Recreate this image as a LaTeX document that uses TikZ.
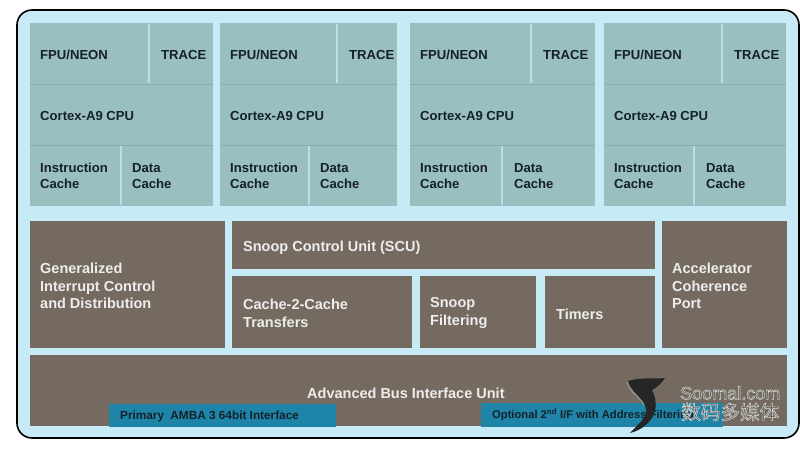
\documentclass[tikz,border=0pt]{standalone}
\usepackage{fontspec}
\setmainfont{Liberation Sans}
\newfontfamily\cjkfont{Noto Sans CJK SC}
\usepackage{tikz}
\usetikzlibrary{positioning}
\definecolor{panelblue}{HTML}{C6EBF6}
\definecolor{cputeal}{HTML}{9ABFC0}
\definecolor{tealedge}{HTML}{86AEB0}
\definecolor{tealline}{HTML}{BBE0E4}
\definecolor{unitbrown}{HTML}{746A5F}
\definecolor{portblue}{HTML}{1F85A8}
\definecolor{inkdark}{HTML}{15202A}
\newcommand{\halotext}[1]{%
  \special{pdf:code q 2 Tr 0.45 w 0.9 0.9 0.88 RG}#1\special{pdf:code Q}}
\tikzset{
  panel/.style={fill=panelblue, draw=black, line width=1.6pt, rounded corners=15pt},
  cpubox/.style={fill=cputeal},
  rowline/.style={draw=tealedge, line width=1pt},
  splitline/.style={draw=tealline, line width=1.2pt},
  unitbox/.style={fill=unitbrown},
  portbox/.style={fill=portblue},
  cpulabel/.style={anchor=west, inner sep=0pt, text=inkdark, align=left,
    font=\fontsize{13.1}{16}\selectfont\bfseries},
  unitlabel/.style={anchor=west, inner sep=0pt, text=white!93!black, align=left,
    font=\fontsize{14.5}{17.7}\selectfont\bfseries},
  portlabel/.style={anchor=west, inner sep=0pt, text=inkdark,
    font=\fontsize{11.2}{13}\selectfont\bfseries},
  marklabel/.style={anchor=west, inner sep=0pt, text=black!62},
}
\begin{document}
\begin{tikzpicture}[x=1pt, y=-1pt]
    \useasboundingbox (0,0) rectangle (800,453);
    \fill[white] (0,0) rectangle (800,453);

    %panel
    \draw[panel] (17,10) rectangle (799,438);

    %cpu blocks
    % \i: index, \l: left, \r: right, \t: split top row, \c: split bottom row,
    % \e: text x of TRACE, \d: text x of Data
    \foreach \i/\l/\r/\t/\c/\e/\d in {
        1/30/213/149/121/161/132,
        2/220/397/337/309/349/320,
        3/410/595/531/502/543/514,
        4/604/786/722/694/734/706}{
      \fill[cpubox] (\l,23) rectangle (\r,206);
      \draw[rowline] (\l,84) -- (\r,84);
      \draw[rowline] (\l,145) -- (\r,145);
      \draw[splitline] (\t,24) -- (\t,83);
      \draw[splitline] (\c,146) -- (\c,205);
      \node[cpulabel, anchor=base west] (fpu\i) at (\l+10,59.5) {FPU/NEON};
      \node[cpulabel, anchor=base west] (trace\i) at (\e,59.5) {TRACE};
      \node[cpulabel] (cortex\i) at (\l+10,116) {Cortex-A9 CPU};
      \node[cpulabel] (icache\i) at (\l+10,175.5) {Instruction\\Cache};
      \node[cpulabel] (dcache\i) at (\d,176) {Data\\Cache};
    }

    %units
    \fill[unitbox] (30,221) rectangle (225,348);
    \fill[unitbox] (232,221) rectangle (655,269);
    \fill[unitbox] (232,276) rectangle (412,348);
    \fill[unitbox] (420,276) rectangle (536,348);
    \fill[unitbox] (545,276) rectangle (655,348);
    \fill[unitbox] (662,221) rectangle (787,348);
    \fill[unitbox] (30,355) rectangle (787,426);

    \node[unitlabel] (gic) at (40,286) {Generalized\\Interrupt Control\\and Distribution};
    \node[unitlabel] (scu) at (243,247.5) {Snoop Control Unit (SCU)};
    \node[unitlabel] (c2c) at (243,313) {Cache-2-Cache\\Transfers};
    \node[unitlabel] (filter) at (430,313) {Snoop\\Filtering};
    \node[unitlabel] (timers) at (556,314) {Timers};
    \node[unitlabel] (acp) at (672,286) {Accelerator\\Coherence\\Port};
    \node[unitlabel] (biu) at (307,393) {Advanced Bus Interface Unit};

    %interfaces
    \fill[portbox] (109,404) rectangle (336,427);
    \fill[portbox] (481,403) rectangle (723,427);
    \node[portlabel, font=\fontsize{11.8}{13}\selectfont\bfseries] (primary) at (120,416.5) {Primary\hspace{3pt} AMBA 3 64bit Interface};
    \node[portlabel] (optional) at (492,415) {Optional 2\textsuperscript{nd} I/F with Address Filtering};

    %watermark
    \fill[black!85] (628,381) .. controls (640,377) and (655,379) .. (665,378)
      .. controls (661,384) and (656,388) .. (652,390)
      .. controls (655,396) and (657,404) .. (655,411)
      .. controls (652,422) and (642,430) .. (630,433)
      .. controls (638,424) and (647,418) .. (646,410)
      .. controls (645,398) and (632,394) .. (628,381);
    \draw[black!40, line width=1pt] (627,382) .. controls (630,393) and (640,397) .. (644,405);
    \node[marklabel, font=\fontsize{18}{20}\selectfont] (soomal) at (680,393) {\halotext{Soomal.com}};
    \node[marklabel, font=\fontsize{19.6}{20}\cjkfont] (cnmark) at (681,412) {\halotext{数码多媒体}};
\end{tikzpicture}
\end{document}
